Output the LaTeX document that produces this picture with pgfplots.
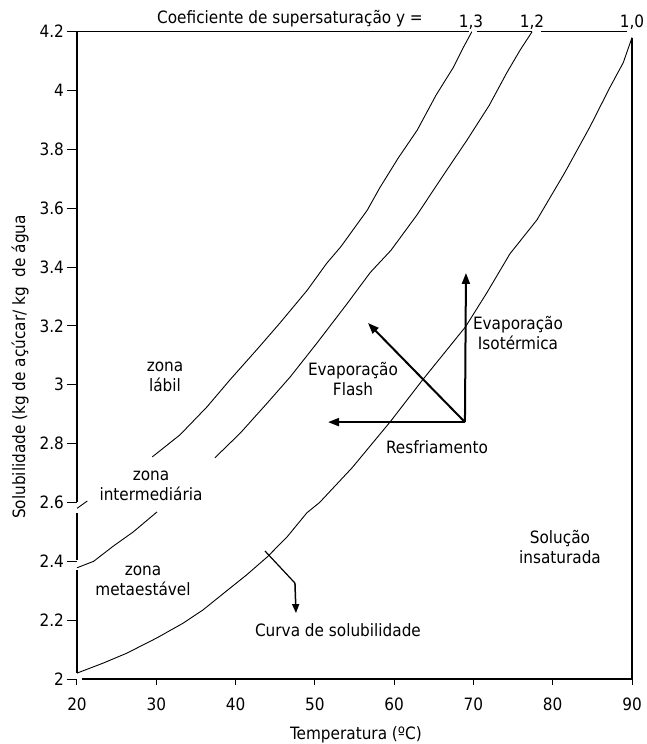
\documentclass[border=0pt]{standalone}
\usepackage{fontspec}
\setmainfont{DejaVu Sans Condensed}
\usepackage{pgfplots}
\pgfplotsset{compat=1.18}
\usetikzlibrary{arrows.meta}
\begin{document}
\fontsize{17bp}{20bp}\selectfont
\begin{tikzpicture}[x=1bp,y=1bp]
\useasboundingbox (-77,-65) rectangle (570,679);
\begin{axis}[
  at={(0,0)}, anchor=south west,
  scale only axis, width=555bp, height=647.3bp,
  xmin=20, xmax=90, ymin=2, ymax=4.2,
  axis x line*=bottom, axis y line*=left,
  axis line style={draw=none},
  xtick={20,30,40,50,60,70,80,90},
  ytick={2,2.2,2.4,2.6,2.8,3,3.2,3.4,3.6,3.8,4,4.2},
  tick align=outside,
  tick style={black, line width=1bp},
  xtick style={/pgfplots/major tick length=6bp},
  ytick style={/pgfplots/major tick length=10bp},
  /pgf/number format/assume math mode=true,
  ticklabel style={font=\fontsize{17bp}{20bp}\selectfont},
  xticklabel style={yshift=-9bp},
  yticklabel style={xshift=-3bp},
  clip=false,
]
% spines
\draw[line width=1.5bp] (axis cs:20,4.2) -- (axis cs:20,2.6);
\draw[line width=1.5bp] (axis cs:20,2.564) -- (axis cs:20,2.404);
\draw[line width=1.5bp] (axis cs:20,2.37) -- (axis cs:20,2.02);
\draw[line width=1.5bp] (axis cs:20.63,2) -- (axis cs:90,2);
\draw[line width=1.5bp] (axis cs:90,2) -- (axis cs:90,4.18);
\draw[line width=1.2bp] (axis cs:20,4.2) -- (axis cs:69.48,4.2);
\draw[line width=1.2bp] (axis cs:70.41,4.2) -- (axis cs:77.35,4.2);
\draw[line width=1.2bp] (axis cs:78.48,4.2) -- (axis cs:89.33,4.2);
% y = 1.0 (solubility curve)
\addplot[black, line width=0.9bp] coordinates {
(20,2.02)(23.3,2.054)(26.3,2.088)(30.1,2.14)(33.4,2.19)(35.9,2.235)(38.9,2.30)
(41.4,2.354)(44.0,2.415)(46.5,2.483)(49.0,2.565)(50.6,2.60)(54.7,2.718)(59.5,2.874)
(63.6,3.017)(69.0,3.197)(71.7,3.313)(74.6,3.445)(78.0,3.56)(81.5,3.72)(84.7,3.877)
(87.2,4.01)(88.9,4.095)(90,4.18)};
% y = 1.2
\addplot[black, line width=0.9bp] coordinates {
(20,2.378)(22.1,2.40)(24.5,2.45)(27.1,2.50)(30.1,2.568)};
\addplot[black, line width=0.9bp] coordinates {
(37.4,2.752)(40.6,2.836)(44.0,2.938)(46.9,3.027)(50.3,3.143)(54.05,3.275)(57.0,3.382)
(59.6,3.457)(62.9,3.578)(65.9,3.70)(69.2,3.832)(72.0,3.95)(74.2,4.06)(75.9,4.138)(77.4,4.2)};
% y = 1.3
\addplot[black, line width=0.9bp] coordinates {(20,2.58)(21.3,2.605)};
\addplot[black, line width=0.9bp] coordinates {
(29.5,2.755)(33.0,2.83)(36.4,2.925)(39.3,3.017)(42.7,3.12)(45.6,3.21)(49.0,3.32)
(51.5,3.413)(53.3,3.47)(56.6,3.593)(58.2,3.67)(60.5,3.77)(62.9,3.865)(65.3,3.985)
(67.5,4.08)(68.8,4.15)(69.8,4.2)};
% process arrows
\draw[line width=2bp, -{Triangle[length=11bp,width=8bp]}] (axis cs:68.93,2.873) -- (axis cs:69.06,3.38);
\draw[line width=2bp, -{Triangle[length=11bp,width=8bp]}] (axis cs:68.93,2.873) -- (axis cs:51.66,2.873);
\draw[line width=2bp, -{Triangle[length=11bp,width=8bp]}] (axis cs:68.93,2.873) -- (axis cs:56.7,3.21);
% pointer to solubility curve
\draw[line width=1.2bp] (axis cs:43.71,2.435) -- (axis cs:47.49,2.326);
\draw[line width=1.5bp, -{Triangle[length=9bp,width=7bp]}] (axis cs:47.49,2.326) -- (axis cs:47.62,2.224);
\end{axis}
% texts (px coordinates relative to axis origin)
\node at (213,660) {Coeficiente de supersaturação y =};
\node at (394,657) {1,3};
\node at (455,657) {1,2};
\node at (555,657) {1,0};
\node[rotate=90] at (-57,312) {Solubilidade (kg de açúcar/ kg\ \ de água};
\node at (279,-56) {Temperatura (ºC)};
\node[align=center] at (88,302.5) {zona\\lábil};
\node[align=center] at (74,193) {zona\\intermediária};
\node[align=center] at (66,98) {zona\\metaestável};
\node[align=center] at (276,300) {Evaporação\\Flash};
\node[align=center] at (441,346) {Evaporação\\Isotérmica};
\node at (360,232) {Resfriamento};
\node[align=center] at (483,131.5) {Solução\\insaturada};
\node at (261,49) {Curva de solubilidade};
\end{tikzpicture}
\end{document}
